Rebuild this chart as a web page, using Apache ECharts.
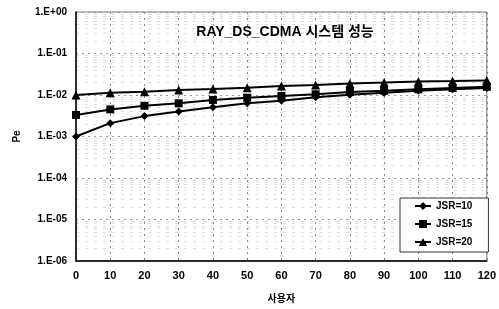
<!DOCTYPE html>
<html>
<head>
<meta charset="utf-8">
<script src="https://cdn.jsdelivr.net/npm/echarts@6/dist/echarts.min.js"></script>
<style>
  html, body { margin: 0; padding: 0; background: #fff; }
  #chart { width: 499px; height: 309px; }
</style>
</head>
<body>
<div id="chart"></div>
<script>
const users = [0, 10, 20, 30, 40, 50, 60, 70, 80, 90, 100, 110, 120];
const jsr10 = [0.0010, 0.0021, 0.0031, 0.0040, 0.0051, 0.0063, 0.0073, 0.0088, 0.0102, 0.0114, 0.0127, 0.0137, 0.0147];
const jsr15 = [0.0033, 0.0045, 0.0055, 0.0063, 0.0076, 0.0086, 0.0095, 0.0104, 0.0118, 0.0127, 0.0137, 0.0147, 0.0158];
const jsr20 = [0.0100, 0.0114, 0.0120, 0.0132, 0.0139, 0.0150, 0.0164, 0.0174, 0.0190, 0.0200, 0.0212, 0.0216, 0.0224];
const seriesNames = ["JSR=10", "JSR=15", "JSR=20"];
const symbols = ["diamond", "rect", "triangle"];

const font = "'Liberation Sans', Arial, sans-serif";
const krFont = "'Liberation Sans', 'Noto Sans CJK KR', sans-serif";

function pairs(values) {
  return users.map((u, i) => [u, values[i]]);
}

function yLabel(value) {
  const exp = Math.round(Math.log10(value));
  const sign = exp < 0 ? "-" : "+";
  return `1.E${sign}${String(Math.abs(exp)).padStart(2, "0")}`;
}

const chart = echarts.init(document.getElementById("chart"), null, { renderer: "canvas" });

chart.setOption({
  animation: false,
  backgroundColor: "#fff",
  title: {
    text: "RAY_DS_CDMA 시스템 성능",
    left: 280,
    top: 20,
    textAlign: "center",
    textStyle: { fontFamily: krFont, fontSize: 14, fontWeight: "bold", color: "#000" },
  },
  grid: { left: 76, right: 8, top: 12, bottom: 46, show: true, borderColor: "#777", borderWidth: 1 },
  legend: {
    orient: "vertical",
    left: 400,
    top: 198,
    padding: [3, 16, 5, 14],
    itemWidth: 16,
    itemHeight: 10,
    itemGap: 8,
    backgroundColor: "#fff",
    borderColor: "#333",
    borderWidth: 1,
    textStyle: { fontFamily: font, fontSize: 10, fontWeight: "bold", color: "#000" },
    data: seriesNames,
  },
  xAxis: {
    type: "value",
    min: 0,
    max: 120,
    interval: 10,
    name: "사용자",
    nameLocation: "middle",
    nameGap: 33,
    nameTextStyle: { fontFamily: krFont, fontSize: 10, fontWeight: "bold", color: "#000" },
    axisLine: { lineStyle: { color: "#000", width: 1.5 } },
    axisTick: { show: false },
    axisLabel: { fontFamily: font, fontSize: 11, fontWeight: "bold", color: "#000", margin: 9 },
    splitLine: { show: true, lineStyle: { color: "#888", type: [2, 4], width: 1 } },
  },
  yAxis: {
    type: "log",
    logBase: 10,
    min: 1e-6,
    max: 1,
    name: "Pe",
    nameLocation: "middle",
    nameGap: 54,
    nameTextStyle: { fontFamily: font, fontSize: 10, fontWeight: "bold", color: "#000" },
    axisLine: { show: true, lineStyle: { color: "#000", width: 1.5 } },
    axisTick: { show: false },
    axisLabel: { fontFamily: font, fontSize: 10, fontWeight: "bold", color: "#000", margin: 9, formatter: yLabel },
    splitLine: { show: true, lineStyle: { color: "#999", type: [2, 4], width: 1 } },
    minorTick: { show: false, splitNumber: 9 },
    minorSplitLine: { show: true, lineStyle: { color: "#ddd", type: [3, 6], width: 1 } },
  },
  series: seriesNames.map((name, i) => ({
    name,
    type: "line",
    data: pairs([jsr10, jsr15, jsr20][i]),
    symbol: symbols[i],
    symbolSize: i === 2 ? 9 : 8,
    showAllSymbol: true,
    lineStyle: { color: "#000", width: 2 },
    itemStyle: { color: "#000" },
  })),
});
</script>
</body>
</html>
